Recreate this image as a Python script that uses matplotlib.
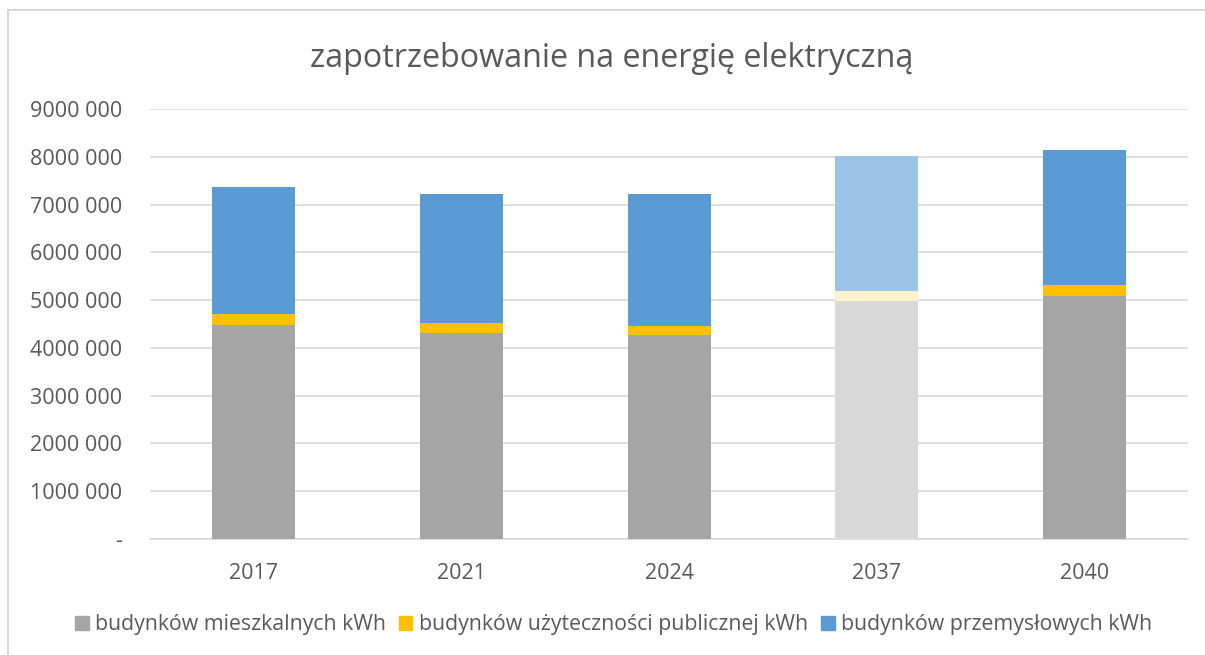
import matplotlib.pyplot as plt
import numpy as np
from matplotlib.patches import Rectangle

YEARS = ["2017", "2021", "2024", "2037", "2040"]
RESIDENTIAL = [4480000, 4310000, 4270000, 4980000, 5080000]
PUBLIC = [220000, 215000, 190000, 210000, 230000]
INDUSTRIAL = [2660000, 2705000, 2770000, 2820000, 2840000]
SERIES_LABELS = [
    "budynków mieszkalnych kWh",
    "budynków użyteczności publicznej kWh",
    "budynków przemysłowych kWh",
]
TITLE = "zapotrzebowanie na energię elektryczną"
Y_TICKS = np.arange(0, 9000001, 1000000)

COLORS = ["#A5A5A5", "#FFC000", "#5B9BD5"]
LIGHT_COLORS = ["#D9D9D9", "#FFF2CC", "#9DC3E6"]
HIGHLIGHT_YEAR = "2037"
TEXT = "#595959"

plt.rcParams["font.family"] = ["Open Sans", "DejaVu Sans"]


def fmt(v):
    v = int(v)
    if v == 0:
        return "-"
    return f"{v // 1000} {v % 1000:03d}"


fig = plt.figure(figsize=(12.05, 6.55), dpi=100)
ax = fig.add_axes([0.1245, 0.177, 0.8615, 0.6566])

x = np.arange(len(YEARS))
bottom = np.zeros(len(YEARS))
for values, color, light, label in zip(
        [RESIDENTIAL, PUBLIC, INDUSTRIAL], COLORS, LIGHT_COLORS, SERIES_LABELS):
    cols = [light if y == HIGHLIGHT_YEAR else color for y in YEARS]
    ax.bar(x, values, 0.4, bottom=bottom, color=cols, label=label,
           edgecolor="none", zorder=3)
    bottom += np.array(values)

ax.set_xlim(-0.5, len(YEARS) - 0.5)
ax.set_ylim(0, 9000000)
ax.set_yticks(Y_TICKS)
ax.set_yticklabels([fmt(v) for v in Y_TICKS], fontsize=15.5, color=TEXT)
ax.set_xticks(x)
ax.set_xticklabels(YEARS, fontsize=15.5, color=TEXT)
ax.tick_params(length=0, axis="y", pad=20)
ax.tick_params(length=0, axis="x", pad=17)
ax.yaxis.grid(True, color="#D9D9D9", linewidth=1.2, zorder=0)
for side in ["top", "right", "left"]:
    ax.spines[side].set_visible(False)
ax.spines["bottom"].set_color("#D9D9D9")
ax.spines["bottom"].set_linewidth(1.2)

fig.text(0.508, 0.910, TITLE, ha="center", va="center", fontsize=23.2, color=TEXT)

handles = [Rectangle((0, 0), 1, 1, color=c) for c in COLORS]
fig.legend(handles, SERIES_LABELS, loc="center", bbox_to_anchor=(0.509, 0.046),
           ncol=3, frameon=False, fontsize=15.3, labelcolor=TEXT,
           handlelength=0.65, handleheight=0.65, handletextpad=0.3,
           columnspacing=0.6)

fig.patches.append(Rectangle((8 / 1205, -0.02), 1.1, 1 - 10 / 655 + 0.02,
                             transform=fig.transFigure, fill=False,
                             edgecolor="#D9D9D9", linewidth=1.5))

fig.savefig("out.png", dpi=100, facecolor="white")
